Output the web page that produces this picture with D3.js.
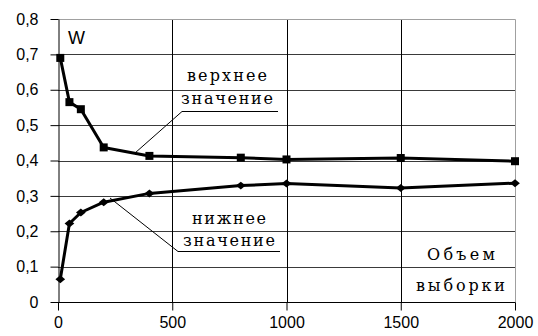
<!DOCTYPE html>
<html>
<head>
<meta charset="utf-8">
<script src="https://cdn.jsdelivr.net/npm/d3@7"></script>
<style>
  html, body { margin: 0; padding: 0; background: #fff; }
  .tick text { font-family: "Liberation Sans", Arial, sans-serif; font-size: 16px; fill: #000; }
  text.note { font-family: "DejaVu Serif", "Liberation Serif", serif; font-size: 16px; font-weight: normal; fill: #000; }
</style>
</head>
<body>
<div id="chart"></div>
<script>
// Sample sizes and the two bounds
const sizes = [10, 50, 100, 200, 400, 800, 1000, 1500, 2000];
const upper = [0.69, 0.565, 0.545, 0.437, 0.413, 0.408, 0.403, 0.407, 0.398];
const lower = [0.064, 0.222, 0.253, 0.282, 0.307, 0.329, 0.335, 0.322, 0.336];
const xTicks = [0, 500, 1000, 1500, 2000];
const yTicks = [0, 0.1, 0.2, 0.3, 0.4, 0.5, 0.6, 0.7, 0.8];

const width = 538, height = 336;
const margin = { top: 19, right: 23, bottom: 34, left: 58 };

const svg = d3.select('#chart')
  .append('svg')
  .attr('width', width)
  .attr('height', height);

const x = d3.scaleLinear()
  .domain([0, 2000])
  .range([margin.left, width - margin.right]);

const y = d3.scaleLinear()
  .domain([0, 0.8])
  .range([height - margin.bottom, margin.top]);

// Horizontal grid lines (dark gray)
svg.append('g')
  .selectAll('line')
  .data(yTicks.filter(d => d > 0 && d < 0.8))
  .join('line')
  .attr('x1', x(0)).attr('x2', x(2000))
  .attr('y1', d => Math.round(y(d)) + 0.5).attr('y2', d => Math.round(y(d)) + 0.5)
  .attr('stroke', '#3a3a3a');

// Vertical grid lines (black)
svg.append('g')
  .selectAll('line')
  .data(xTicks.filter(d => d > 0 && d < 2000))
  .join('line')
  .attr('x1', d => Math.round(x(d)) + 0.5).attr('x2', d => Math.round(x(d)) + 0.5)
  .attr('y1', y(0)).attr('y2', y(0.8))
  .attr('stroke', '#000');

// Top and right frame (light gray)
svg.append('path')
  .attr('d', `M${x(0)},${Math.round(y(0.8)) + 0.5}H${Math.round(x(2000)) + 0.5}V${y(0)}`)
  .attr('fill', 'none')
  .attr('stroke', '#a0a0a0');

// Axes
const xAxis = d3.axisBottom(x)
  .tickValues(xTicks)
  .tickSize(8)
  .tickSizeOuter(0)
  .tickPadding(6)
  .tickFormat(d3.format('d'));

const yAxis = d3.axisLeft(y)
  .tickValues(yTicks)
  .tickSize(8)
  .tickSizeOuter(0)
  .tickPadding(12)
  .tickFormat(d => d === 0 ? '0' : d3.format('.1f')(d).replace('.', ','));

svg.append('g')
  .attr('transform', `translate(0,${Math.round(y(0)) + 0.5})`)
  .call(xAxis)
  .call(g => g.select('.domain').remove())
  .call(g => g.selectAll('.tick line').attr('stroke', '#000'));

svg.append('g')
  .attr('transform', `translate(${Math.round(x(0)) + 0.5},0)`)
  .call(yAxis)
  .call(g => g.select('.domain').attr('stroke', '#000'))
  .call(g => g.selectAll('.tick line').attr('stroke', '#000'));

svg.append('line')
  .attr('x1', x(0)).attr('x2', Math.round(x(2000)) + 0.5)
  .attr('y1', Math.round(y(0)) + 0.5).attr('y2', Math.round(y(0)) + 0.5)
  .attr('stroke', '#000');

// Series lines
const line = d3.line()
  .x((d, i) => x(sizes[i]))
  .y(d => y(d));

[upper, lower].forEach(values => {
  svg.append('path')
    .attr('d', line(values))
    .attr('fill', 'none')
    .attr('stroke', '#000')
    .attr('stroke-width', 3)
    .attr('stroke-linejoin', 'round');
});

// Square markers for the upper bound
svg.append('g')
  .selectAll('rect')
  .data(upper)
  .join('rect')
  .attr('x', (d, i) => x(sizes[i]) - 4)
  .attr('y', d => y(d) - 4)
  .attr('width', 8)
  .attr('height', 8)
  .attr('fill', '#000');

// Diamond markers for the lower bound
svg.append('g')
  .selectAll('path')
  .data(lower)
  .join('path')
  .attr('d', d3.symbol(d3.symbolDiamond2, 50))
  .attr('transform', (d, i) => `translate(${x(sizes[i])},${y(d)}) scale(1.1,0.9)`)
  .attr('fill', '#000');

// "W" label
svg.append('text')
  .attr('x', 68).attr('y', 44)
  .attr('font-family', '"Liberation Sans", Arial, sans-serif')
  .attr('font-size', 18)
  .text('W');

// Annotations with leader lines
function note(lines, cx, ys, lens, under, leader) {
  lines.forEach((t, i) => {
    svg.append('text')
      .attr('class', 'note')
      .attr('x', cx).attr('y', ys[i])
      .attr('text-anchor', 'middle')
      .attr('textLength', lens[i])
      .attr('lengthAdjust', 'spacing')
      .text(t);
  });
  svg.append('path')
    .attr('d', `M${under[1]},${under[2]}H${under[0]}L${leader[0]},${leader[1]}`)
    .attr('fill', 'none')
    .attr('stroke', '#000')
    .attr('stroke-width', 1);
}

note(['верхнее', 'значение'], 227, [81, 104], [80, 92], [182, 278, 111.5], [135, 153]);
note(['нижнее', 'значение'], 229, [224, 246], [74, 92], [178, 280, 251.5], [110, 198]);

// Axis title inside the plot
svg.append('text').attr('class', 'note')
  .attr('x', 495).attr('y', 260).attr('text-anchor', 'end')
  .attr('textLength', 68).attr('lengthAdjust', 'spacing')
  .text('Объем');
svg.append('text').attr('class', 'note')
  .attr('x', 505).attr('y', 291).attr('text-anchor', 'end')
  .attr('textLength', 89).attr('lengthAdjust', 'spacing')
  .text('выборки');
</script>
</body>
</html>
